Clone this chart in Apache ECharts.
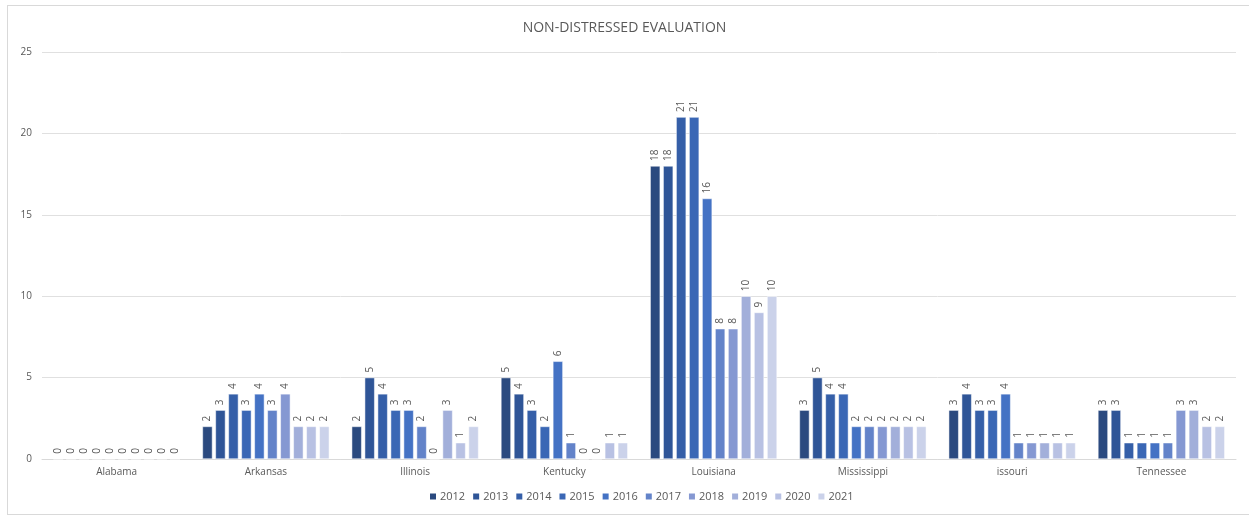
<!DOCTYPE html>
<html>
<head>
<meta charset="utf-8">
<script src="https://cdn.jsdelivr.net/npm/echarts@6/dist/echarts.min.js"></script>
<style>
  html, body { margin: 0; padding: 0; background: #fff; }
  #frame { position: absolute; left: 7px; top: 5px; width: 1245px; height: 508px; border: 1px solid #d9d9d9; }
  #chart { position: absolute; left: 0; top: 0; width: 1249px; height: 517px; }
</style>
</head>
<body>
<div id="frame"></div>
<div id="chart"></div>
<script>
const states = ["Alabama", "Arkansas", "Illinois", "Kentucky", "Louisiana", "Mississippi", "issouri", "Tennessee"];
const years = ["2012", "2013", "2014", "2015", "2016", "2017", "2018", "2019", "2020", "2021"];

// one row per state, one value per year
const alabama     = [0, 0, 0, 0, 0, 0, 0, 0, 0, 0];
const arkansas    = [2, 3, 4, 3, 4, 3, 4, 2, 2, 2];
const illinois    = [2, 5, 4, 3, 3, 2, 0, 3, 1, 2];
const kentucky    = [5, 4, 3, 2, 6, 1, 0, 0, 1, 1];
const louisiana   = [18, 18, 21, 21, 16, 8, 8, 10, 9, 10];
const mississippi = [3, 5, 4, 4, 2, 2, 2, 2, 2, 2];
const issouri     = [3, 4, 3, 3, 4, 1, 1, 1, 1, 1];
const tennessee   = [3, 3, 1, 1, 1, 1, 3, 3, 2, 2];

const rows = [alabama, arkansas, illinois, kentucky, louisiana, mississippi, issouri, tennessee];
const colors = ["#2b4a7f", "#2f5597", "#355fa8", "#3a67b5", "#4472c4", "#6383c9", "#8598d2", "#a2afda", "#b8c1e3", "#cbd2ea"];

const chart = echarts.init(document.getElementById("chart"));
chart.setOption({
  color: colors,
  title: {
    text: "NON-DISTRESSED EVALUATION",
    left: "center",
    top: 16,
    textStyle: { fontFamily: "Open Sans", fontSize: 14, fontWeight: "normal", color: "#595959" }
  },
  legend: {
    bottom: 10,
    left: 423,
    icon: "rect",
    itemWidth: 8,
    itemHeight: 8,
    itemGap: 6,
    textStyle: { fontFamily: "Open Sans", fontSize: 11, color: "#595959", padding: [0, 0, 0, -2] },
    data: years
  },
  grid: { left: 42, right: 13, top: 52, bottom: 58 },
  xAxis: {
    type: "category",
    data: states,
    axisLine: { lineStyle: { color: "#d9d9d9" } },
    axisTick: { show: false },
    axisLabel: { fontFamily: "Open Sans", fontSize: 10, color: "#595959", margin: 8 }
  },
  yAxis: {
    type: "value",
    min: 0,
    max: 25,
    interval: 5,
    axisLine: { show: false },
    axisTick: { show: false },
    splitLine: { lineStyle: { color: "#e0e0e0" } },
    axisLabel: { fontFamily: "Open Sans", fontSize: 10, color: "#595959", margin: 10 }
  },
  series: years.map((y, i) => ({
    name: y,
    type: "bar",
    data: rows.map(r => r[i]),
    barGap: "30%",
    barCategoryGap: "15%",
    itemStyle: { borderColor: "#ffffff", borderWidth: 0.5 },
    label: {
      show: true,
      position: "top",
      rotate: 90,
      align: "left",
      verticalAlign: "middle",
      distance: 5,
      fontFamily: "Open Sans",
      fontSize: 10,
      color: "#595959"
    }
  }))
});
</script>
</body>
</html>
